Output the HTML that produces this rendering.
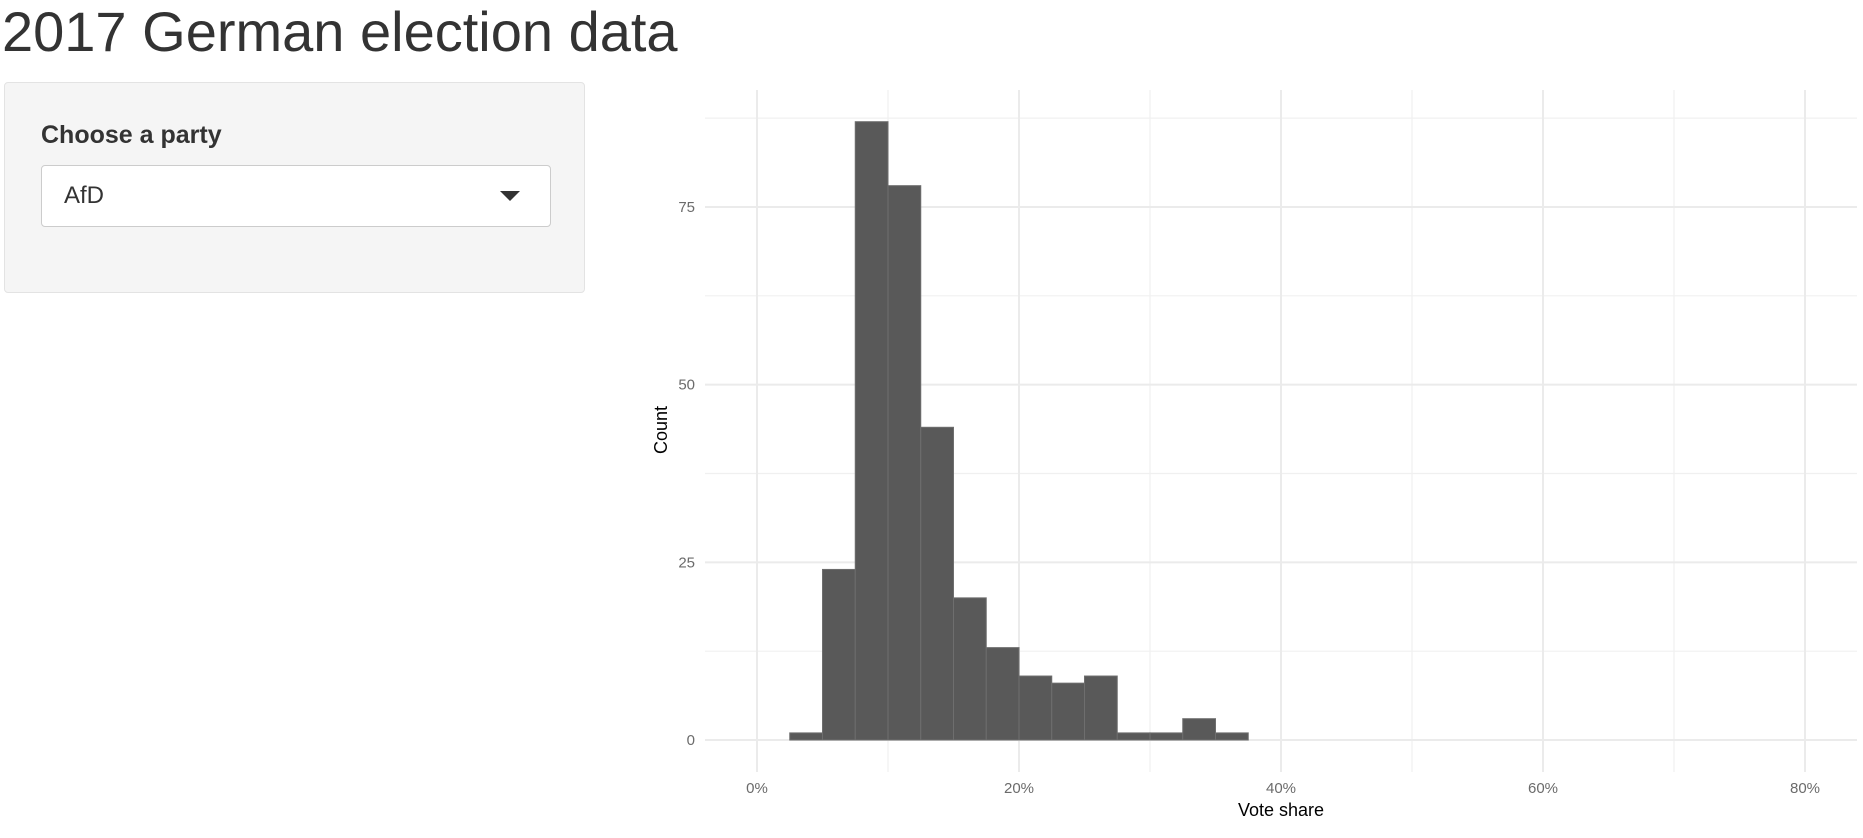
<!DOCTYPE html>
<html><head><meta charset="utf-8">
<style>
html,body{margin:0;padding:0;background:#fff;width:1863px;height:838px;overflow:hidden;font-family:"Liberation Sans",Arial,sans-serif;color:#333}
h1{position:absolute;left:2px;top:0;margin:0;font-weight:400;font-size:56px;line-height:64px;color:#333}
.panel{position:absolute;left:4px;top:82px;width:581px;height:211px;background:#f5f5f5;border:1px solid #e3e3e3;border-radius:4px;box-sizing:border-box}
.lbl{position:absolute;left:36px;top:38px;font-weight:700;font-size:25px;color:#333}
.sel{position:absolute;left:36px;top:82px;width:510px;height:62px;background:#fff;border:1px solid #ccc;border-radius:4px;box-sizing:border-box}
.sel span{position:absolute;left:22px;top:16px;font-size:24px;color:#333}
.caret{position:absolute;left:458px;top:25px;width:0;height:0;border-left:10px solid transparent;border-right:10px solid transparent;border-top:10px solid #333}
svg{position:absolute;left:0;top:0}
</style></head><body>
<h1>2017 German election data</h1>
<div class="panel">
 <div class="lbl">Choose a party</div>
 <div class="sel"><span>AfD</span><div class="caret"></div></div>
</div>
<svg id="chart" width="1863" height="838"></svg>
<script>
const binStarts=[2.5,5,7.5,10,12.5,15,17.5,20,22.5,25,27.5,30,32.5,35];
const counts=[1,24,87,78,44,20,13,9,8,9,1,1,3,1];
const binWidth=2.5;
const xTicks=[0,20,40,60,80];
const xTickLabels=["0%","20%","40%","60%","80%"];
const yTicks=[0,25,50,75];
const yTickLabels=["0","25","50","75"];
const xMinor=[10,30,50,70];
const yMinor=[12.5,37.5,62.5,87.5];

const svg=document.getElementById('chart');
const NS='http://www.w3.org/2000/svg';
const L=705,R=1857,T=90,B=772;
const X=v=>757+(v)*13.1;
const Y=v=>740-v*7.107;
function mk(t,a){const e=document.createElementNS(NS,t);for(const k in a)e.setAttribute(k,a[k]);svg.appendChild(e);return e;}
xMinor.forEach(v=>{const e=mk('line',{x1:X(v),x2:X(v),y1:T,y2:B,stroke:'#f0f0f0','stroke-width':1.2});

});
yMinor.forEach(v=>{const e=mk('line',{x1:L,x2:R,y1:Y(v),y2:Y(v),stroke:'#f0f0f0','stroke-width':1.2});

});
xTicks.forEach((v,i)=>{const e=mk('line',{x1:X(v),x2:X(v),y1:T,y2:B,stroke:'#ebebeb','stroke-width':2});


const t=mk('text',{x:X(v),y:793,'text-anchor':'middle','font-size':15,fill:'#6b6b6b','font-family':'Liberation Sans, sans-serif'});
t.textContent=xTickLabels[i];

});
yTicks.forEach((v,i)=>{const e=mk('line',{x1:L,x2:R,y1:Y(v),y2:Y(v),stroke:'#ebebeb','stroke-width':2});


const t=mk('text',{x:695,y:Y(v)+5,'text-anchor':'end','font-size':15,fill:'#6b6b6b','font-family':'Liberation Sans, sans-serif'});
t.textContent=yTickLabels[i];

});
binStarts.forEach((s,i)=>{const x0=X(s),x1=X(s+binWidth),y=Y(counts[i]);
const r=mk('rect',{x:x0,y:y,width:x1-x0,height:Y(0)-y,fill:'#595959',stroke:'#6e6e6e','stroke-width':1});

});
const xt=mk('text',{x:X(40),y:816,'text-anchor':'middle','font-size':18,fill:'#000','font-family':'Liberation Sans, sans-serif'});
xt.textContent='Vote share';


const yt=mk('text',{x:0,y:0,'text-anchor':'middle','font-size':18,fill:'#000','font-family':'Liberation Sans, sans-serif',transform:'translate(667,430) rotate(-90)'});
yt.textContent='Count';


</script>
</body></html>
